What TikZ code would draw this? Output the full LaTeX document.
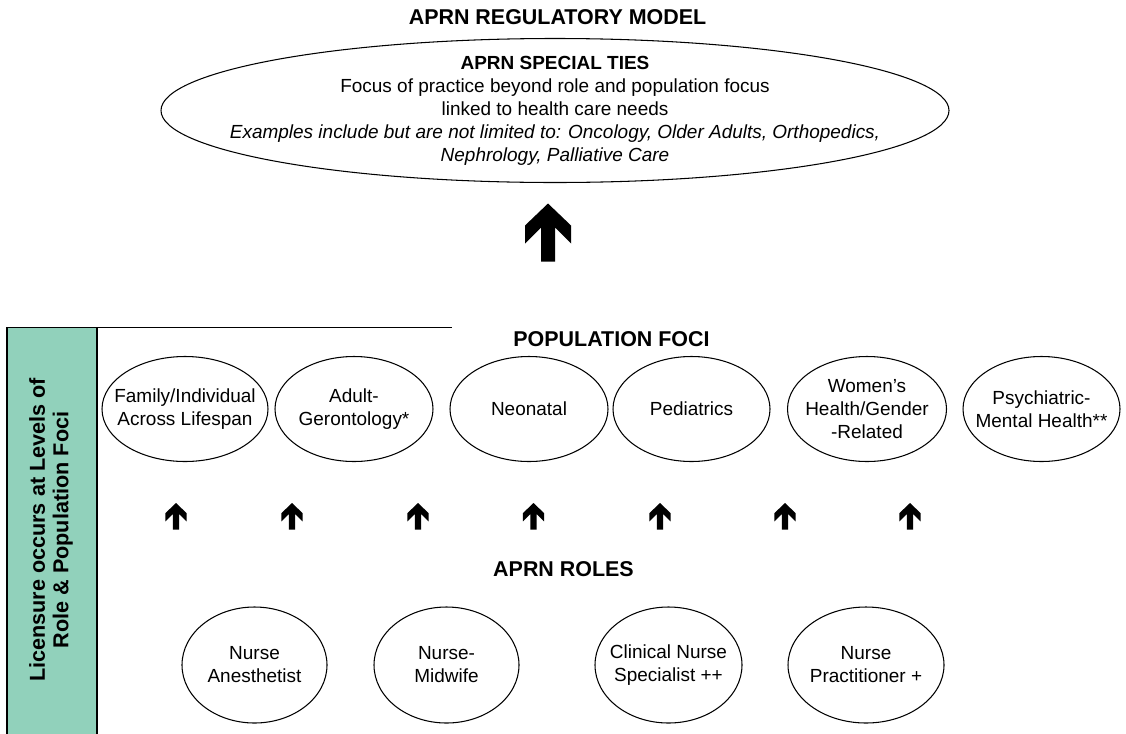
\documentclass[tikz,border=0pt]{standalone}
\usepackage{tikz}
\usepackage{fontspec}
\setmainfont{Liberation Sans}
\definecolor{licgreen}{RGB}{145,209,187}
\tikzset{
  head/.style={font=\fontsize{12.2}{14}\selectfont\bfseries, anchor=base, inner sep=0pt},
  txt/.style={font=\fontsize{10.8}{13.1}\selectfont, align=center, inner sep=0pt},
  sidelabel/.style={font=\fontsize{12.3}{13.3}\selectfont\bfseries, align=center, inner sep=0pt, rotate=90},
  ring/.style={draw, line width=0.6pt},
  bar/.style={line width=0.8pt},
  pics/uparrow/.style={code={
    \fill (0,0) -- (-0.46,-0.44) -- (-0.46,-0.80) -- (-0.14,-0.48) -- (-0.14,-1.16)
      -- (0.14,-1.16) -- (0.14,-0.48) -- (0.46,-0.80) -- (0.46,-0.44) -- cycle;
  }}
}
\begin{document}
\begin{tikzpicture}
    \useasboundingbox (0,0) rectangle (22.52,-14.66);
    \fill[licgreen] (0.14,-6.55) rectangle (1.94,-15);
    \draw[bar] (0.14,-15) -- (0.14,-6.55) -- (9.04,-6.55);
    \draw[bar] (1.94,-6.55) -- (1.94,-15);
    \node[sidelabel] (lic) at (1.02,-10.6) {Licensure occurs at Levels of\\Role \& Population Foci};

    \node[head] (title) at (11.15,-0.48) {APRN REGULATORY MODEL};
    \node[txt] (spec) at (11.10,-2.21) {\textbf{APRN SPECIAL TIES}\\Focus of practice beyond role and population focus\\linked to health care needs\\\textit{Examples include but are not limited to: Oncology, Older Adults, Orthopedics,}\\\textit{Nephrology, Palliative Care}};
    \draw[ring] (spec) ellipse [x radius=7.88, y radius=1.44];
    \pic at (10.96,-4.07) {uparrow};

    \node[head] (foci) at (12.23,-6.92) {POPULATION FOCI};
    \node[txt] (fam) at (3.70,-8.18) {Family/Individual\\Across Lifespan};
    \node[txt] (adult) at (7.08,-8.18) {Adult-\\Gerontology*};
    \node[txt] (neo) at (10.58,-8.18) {Neonatal};
    \node[txt] (ped) at (13.83,-8.18) {Pediatrics};
    \node[txt] (wom) at (17.34,-8.18) {Women's\\Health/Gender\\-Related};
    \node[txt] (psy) at (20.83,-8.18) {Psychiatric-\\Mental Health**};
    \foreach \n/\r in {fam/1.66,adult/1.58,neo/1.58,ped/1.57,wom/1.59,psy/1.57}
        \draw[ring] (\n) ellipse [x radius=\r, y radius=1.05];

    \foreach \x in {3.52,5.84,8.36,10.67,13.20,15.70,18.20}
        \pic[scale=0.46] at (\x,-10.06) {uparrow};

    \node[head] (roles) at (11.27,-11.53) {APRN ROLES};
    \node[txt] (anes) at (5.09,-13.30) {Nurse\\Anesthetist};
    \node[txt] (midw) at (8.93,-13.30) {Nurse-\\Midwife};
    \node[txt] (cns) at (13.37,-13.30) {Clinical Nurse\\Specialist ++};
    \node[txt] (np) at (17.32,-13.30) {Nurse\\Practitioner +};
    \foreach \n/\r in {anes/1.45,midw/1.45,cns/1.47,np/1.56}
        \draw[ring] (\n) ellipse [x radius=\r, y radius=1.16];
\end{tikzpicture}
\end{document}
